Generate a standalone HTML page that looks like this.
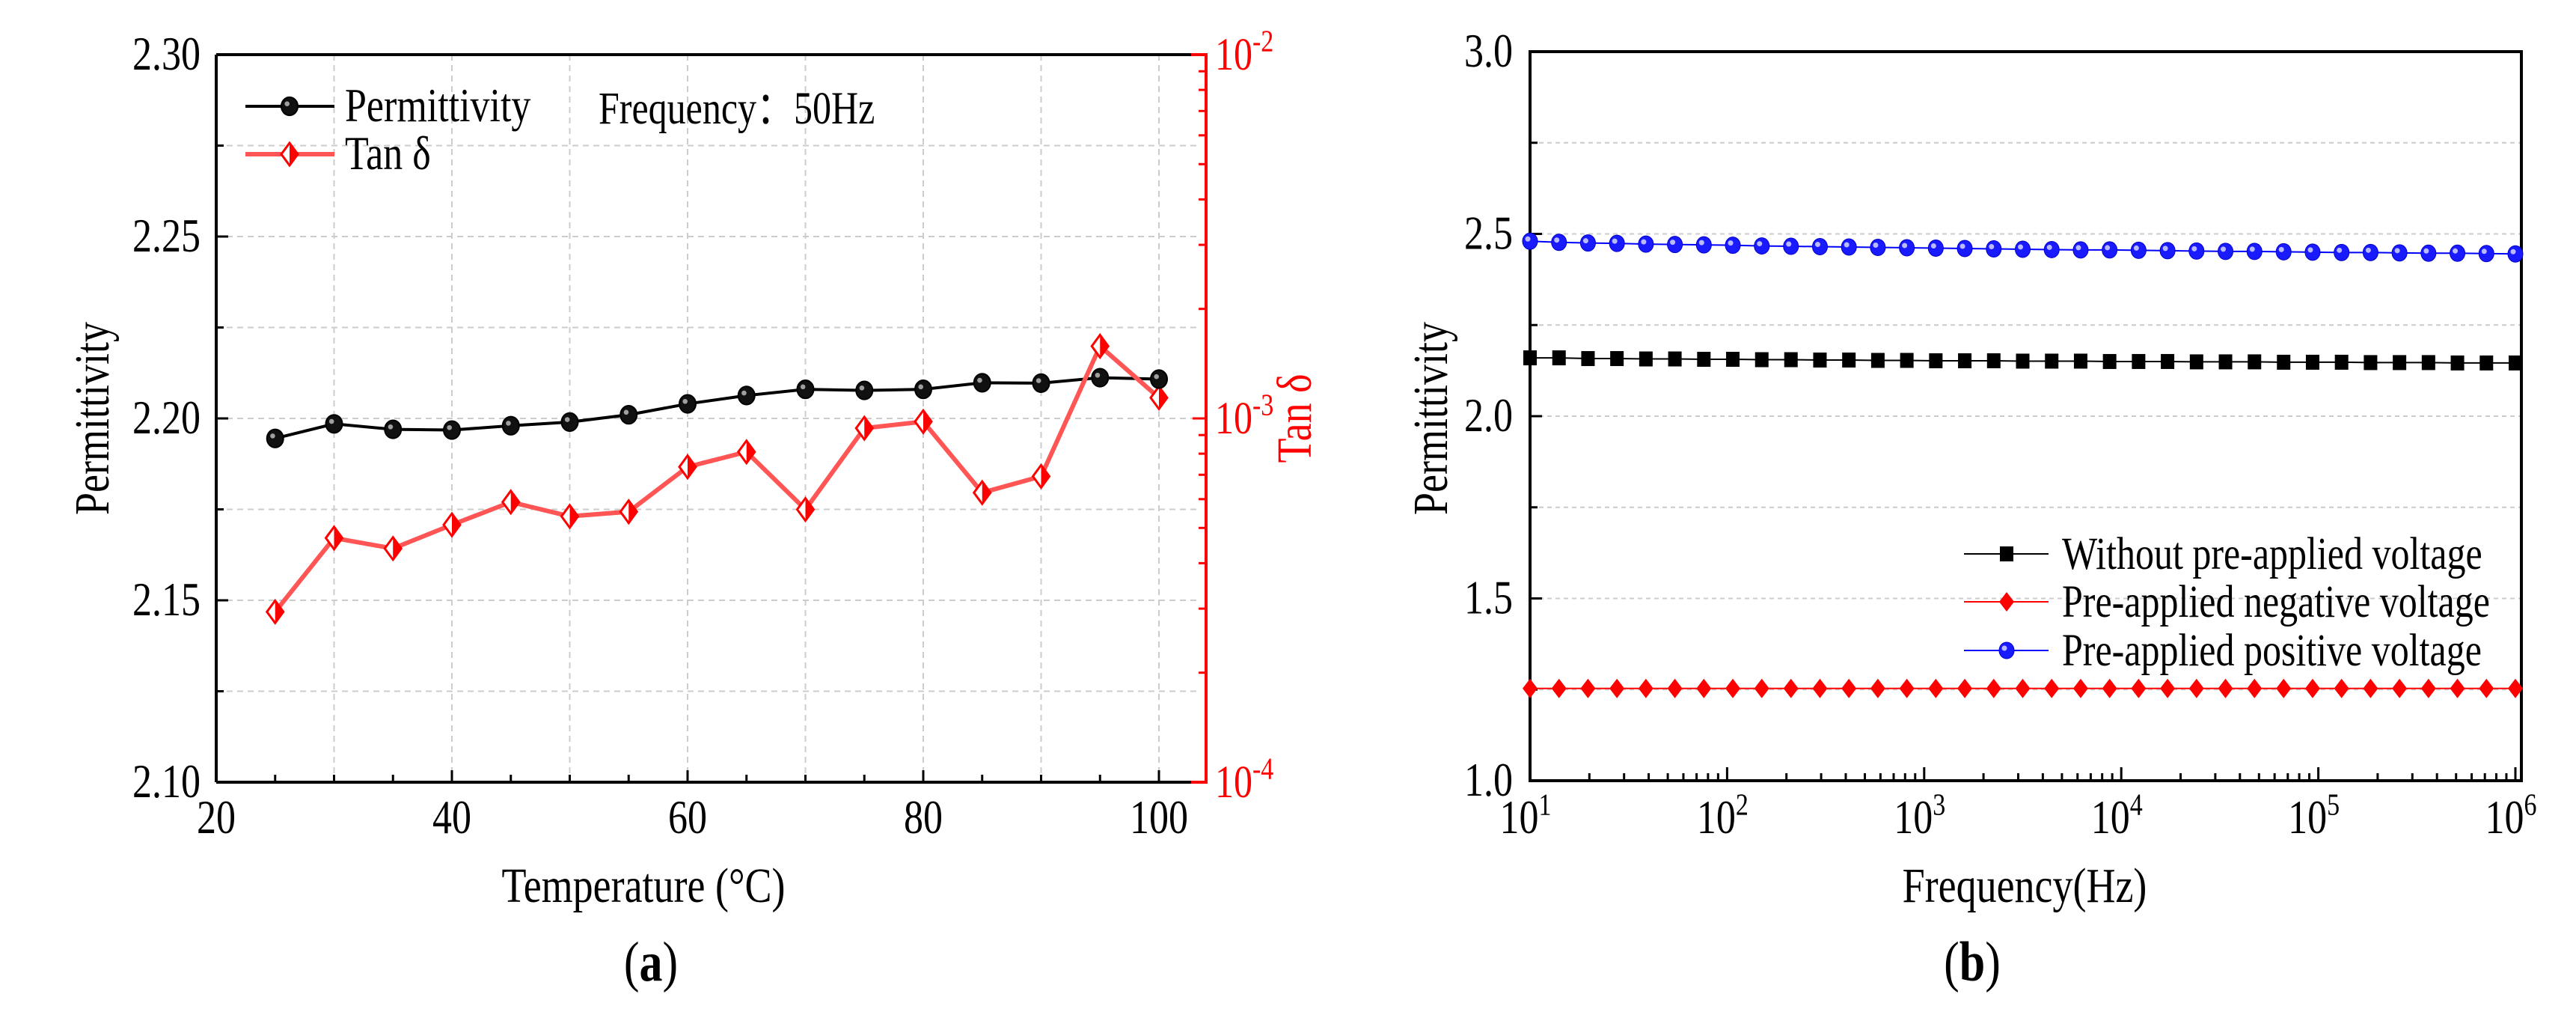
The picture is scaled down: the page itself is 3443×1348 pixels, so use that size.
<!DOCTYPE html>
<html><head><meta charset="utf-8"><style>
html,body{margin:0;padding:0;background:#fff;overflow:hidden}
svg{display:block;font-family:"Liberation Serif",serif}
</style></head><body>
<svg id="svg" width="3443" height="1348" viewBox="0 0 3443 1348" xmlns="http://www.w3.org/2000/svg">
<g id="ga"></g>
<g id="gb"></g>
</svg>
<script>
// ---- Chart (a) data ----
const tempC = [25,30,35,40,45,50,55,60,65,70,75,80,85,90,95,100];
const permA = [2.1945,2.1985,2.197,2.1968,2.198,2.199,2.201,2.204,2.2063,2.208,2.2077,2.208,2.2098,2.2097,2.2112,2.2108];
const tanD = [2.94e-4,4.69e-4,4.39e-4,5.1e-4,5.89e-4,5.38e-4,5.54e-4,7.36e-4,8.09e-4,5.62e-4,9.4e-4,9.8e-4,6.25e-4,6.93e-4,1.58e-3,1.14e-3];
const aXTicks = [20,40,60,80,100];
const aYTicks = ["2.10","2.15","2.20","2.25","2.30"];
const aRTicks = ["-4","-3","-2"];
// ---- Chart (b) data ----
const freqExp = [1,1.147,1.294,1.441,1.588,1.735,1.882,2.029,2.176,2.324,2.471,2.618,2.765,2.912,3.059,3.206,3.353,3.5,3.647,3.794,3.941,4.088,4.235,4.382,4.529,4.676,4.824,4.971,5.118,5.265,5.412,5.559,5.706,5.853,6];
const permNone = [2.16,2.16,2.158,2.158,2.157,2.157,2.156,2.156,2.155,2.155,2.154,2.154,2.153,2.153,2.152,2.152,2.152,2.151,2.151,2.151,2.15,2.15,2.15,2.149,2.149,2.149,2.148,2.148,2.148,2.147,2.147,2.147,2.146,2.146,2.146];
const permNeg = [1.253,1.253,1.253,1.253,1.253,1.253,1.253,1.253,1.253,1.253,1.253,1.253,1.253,1.253,1.253,1.253,1.253,1.253,1.253,1.253,1.253,1.253,1.253,1.253,1.253,1.253,1.253,1.253,1.253,1.253,1.253,1.253,1.253,1.253,1.253];
const permPos = [2.48,2.477,2.475,2.474,2.472,2.471,2.47,2.469,2.467,2.466,2.465,2.464,2.463,2.462,2.461,2.46,2.459,2.458,2.457,2.456,2.456,2.455,2.454,2.453,2.452,2.452,2.451,2.45,2.449,2.449,2.448,2.447,2.447,2.446,2.445];
const bYTicks = ["1.0","1.5","2.0","2.5","3.0"];
const bXTicks = [1,2,3,4,5,6];

const NS="http://www.w3.org/2000/svg";
const SY=1.22;
function mk(parent,tag,attrs,text){const e=document.createElementNS(NS,tag);for(const k in attrs)e.setAttribute(k,attrs[k]);if(text!==undefined)e.textContent=text;parent.appendChild(e);return e;}
function txt(parent,x,y,attrs,text,rot){const a=Object.assign({x:0,y:0,transform:`translate(${x},${y})${rot?' rotate(-90)':''} scale(1,${SY})`},attrs);return mk(parent,'text',a,text);}

// ===== Chart A =====
const ga=document.getElementById('ga');
const aL=289,aR=1612,aT=73,aB=1045,aX0=289,aX1=1549;
const ax=v=>aX0+(v-20)/80*(aX1-aX0);
const ay=v=>aB-(v-2.10)/0.20*(aB-aT);
const ayr=v=>aB-(Math.log10(v)+4)/2*(aB-aT);
for(let i=1;i<8;i++){const yv=2.10+i*0.025;const g=mk(ga,'line',{x1:aL,x2:aR-10,y1:ay(yv),y2:ay(yv),stroke:'#ccc','stroke-width':2,'stroke-dasharray':'8,6'});}
for(let v=30;v<=100;v+=10){const g=mk(ga,'line',{x1:ax(v),x2:ax(v),y1:aT,y2:aB,stroke:'#ccc','stroke-width':2,'stroke-dasharray':'8,6'});}
let e=mk(ga,'line',{x1:aL,x2:aR-20,y1:aT,y2:aT,stroke:'#000','stroke-width':4});
e=mk(ga,'line',{x1:aL,x2:aR-20,y1:aB,y2:aB,stroke:'#000','stroke-width':4});
e=mk(ga,'line',{x1:aL,x2:aL,y1:aT,y2:aB,stroke:'#000','stroke-width':4});
e=mk(ga,'polyline',{points:`${aR-20},${aT} ${aR},${aT} ${aR},${aB} ${aR-20},${aB}`,fill:'none',stroke:'#f00','stroke-width':4});
for(let v=20;v<=100;v+=5){mk(ga,'line',{x1:ax(v),x2:ax(v),y1:aB,y2:aB-(v%20===0?16:10),stroke:'#000','stroke-width':3});}
aXTicks.forEach(v=>{const t=txt(ga,ax(v),1113,{'font-size':52,'text-anchor':'middle'},String(v));});
aYTicks.forEach(s=>{const v=parseFloat(s);mk(ga,'line',{x1:aL,x2:aL+16,y1:ay(v),y2:ay(v),stroke:'#000','stroke-width':3});const t=txt(ga,268,ay(v)+20,{'font-size':52,'text-anchor':'end'},s);});
for(let i=1;i<8;i+=2){mk(ga,'line',{x1:aL,x2:aL+10,y1:ay(2.10+i*0.025),y2:ay(2.10+i*0.025),stroke:'#000','stroke-width':3});}
for(let d=-4;d<-2;d++){for(let m=1;m<=10;m++){const v=m*Math.pow(10,d);const y=ayr(v);mk(ga,'line',{x1:aR,x2:aR-(m===1||m===10?18:10),y1:y,y2:y,stroke:'#f00','stroke-width':3});}}
aRTicks.forEach(s=>{const y=ayr(Math.pow(10,parseInt(s)));const t=txt(ga,1624,y+20,{'font-size':50,fill:'#f00'});mk(t,'tspan',{},'10');mk(t,'tspan',{dy:-20,'font-size':34},s);});
e=txt(ga,860,1205,{'font-size':54,'text-anchor':'middle'},'Temperature (°C)');
e=txt(ga,145,559,{'font-size':54,'text-anchor':'middle'},'Permittivity',true);
e=txt(ga,1752,559,{'font-size':54,'text-anchor':'middle',fill:'#f00'},'Tan δ',true);
e=txt(ga,870,1310,{'font-size':62,'text-anchor':'middle'});mk(e,'tspan',{},'(');mk(e,'tspan',{'font-weight':'bold'},'a');mk(e,'tspan',{},')');
e=mk(ga,'polyline',{points:tempC.map((t,i)=>ax(t)+','+ay(permA[i])).join(' '),fill:'none',stroke:'#000','stroke-width':4});
e=mk(ga,'polyline',{points:tempC.map((t,i)=>ax(t)+','+ayr(tanD[i])).join(' '),fill:'none',stroke:'#f55','stroke-width':6});
function circleMark(g,x,y,fill,r){mk(g,'ellipse',{cx:x,cy:y,rx:r,ry:r*1.1,fill:fill,stroke:'#000','stroke-width':2});mk(g,'circle',{cx:x-r*0.3,cy:y-r*0.3,r:r*0.3,fill:'rgba(255,255,255,0.6)'});}
function halfDiamond(g,x,y){mk(g,'polygon',{points:`${x},${y-15} ${x+11},${y} ${x},${y+15} ${x-11},${y}`,fill:'#fff',stroke:'#f00','stroke-width':3});mk(g,'polygon',{points:`${x},${y-15} ${x+11},${y} ${x},${y+15}`,fill:'#f00'});}
tempC.forEach((t,i)=>{const g=mk(ga,'g',{});halfDiamond(g,ax(t),ayr(tanD[i]));});
tempC.forEach((t,i)=>{const g=mk(ga,'g',{});circleMark(g,ax(t),ay(permA[i]),'#111',11);});
let lg=mk(ga,'g',{});
mk(lg,'line',{x1:328,x2:447,y1:142,y2:142,stroke:'#000','stroke-width':4});circleMark(lg,387,142,'#111',11);txt(lg,461,162,{'font-size':52},'Permittivity');
lg=mk(ga,'g',{});
mk(lg,'line',{x1:328,x2:447,y1:206,y2:206,stroke:'#f55','stroke-width':6});halfDiamond(lg,387,206);txt(lg,461,226,{'font-size':52},'Tan δ');
e=txt(ga,800,165,{'font-size':50},'Frequency：50Hz');

// ===== Chart B =====
const gb=document.getElementById('gb');
const bL=2045,bR=3370,bT=69,bB=1043,bX0=2045,bX1=3362;
const bx=v=>bX0+(v-1)/5*(bX1-bX0);
const by=v=>bB-(v-1)/2*(bB-bT);
for(let i=1;i<8;i++){const v=1+i*0.25;const g=mk(gb,'line',{x1:bL+12,x2:bR,y1:by(v),y2:by(v),stroke:'#ccc','stroke-width':2,'stroke-dasharray':'6,5'});}
e=mk(gb,'rect',{x:bL,y:bT,width:bR-bL,height:bB-bT,fill:'none',stroke:'#000','stroke-width':4});
bYTicks.forEach(s=>{const v=parseFloat(s);mk(gb,'line',{x1:bL,x2:bL+16,y1:by(v),y2:by(v),stroke:'#000','stroke-width':3});const t=txt(gb,2022,by(v)+20,{'font-size':52,'text-anchor':'end'},s);});
for(let i=1;i<8;i+=2)mk(gb,'line',{x1:bL,x2:bL+10,y1:by(1+i*0.25),y2:by(1+i*0.25),stroke:'#000','stroke-width':3});
for(let d=1;d<6;d++)for(let m=2;m<10;m++){const x=bx(d+Math.log10(m));mk(gb,'line',{x1:x,x2:x,y1:bB,y2:bB-10,stroke:'#000','stroke-width':3});}
bXTicks.forEach(d=>{mk(gb,'line',{x1:bx(d),x2:bx(d),y1:bB,y2:bB-18,stroke:'#000','stroke-width':3});const t=txt(gb,bx(d)-6,1113,{'font-size':52,'text-anchor':'middle'});mk(t,'tspan',{},'10');mk(t,'tspan',{dy:-20,'font-size':34},String(d));});
e=txt(gb,2706,1205,{'font-size':54,'text-anchor':'middle'},'Frequency(Hz)');
e=txt(gb,1934,559,{'font-size':54,'text-anchor':'middle'},'Permittivity',true);
e=txt(gb,2636,1310,{'font-size':62,'text-anchor':'middle'});mk(e,'tspan',{},'(');mk(e,'tspan',{'font-weight':'bold'},'b');mk(e,'tspan',{},')');
function sq(g,x,y){mk(g,'rect',{x:x-9,y:y-10,width:18,height:20,fill:'#000'});}
function dia(g,x,y){mk(g,'polygon',{points:`${x},${y-13} ${x+10},${y} ${x},${y+13} ${x-10},${y}`,fill:'#f00'});}
function blueC(g,x,y){mk(g,'ellipse',{cx:x,cy:y,rx:10,ry:11,fill:'#1a1aff',stroke:'#00c','stroke-width':1});mk(g,'circle',{cx:x-3,cy:y-3,r:3.5,fill:'rgba(255,255,255,0.7)'});}
const seriesB=[[permNone,'#000','series-without-voltage',sq],[permNeg,'#f00','series-negative-voltage',dia],[permPos,'#00f','series-positive-voltage',blueC]];
seriesB.forEach(([arr,col,nm,fn])=>{const g=mk(gb,'g',{});mk(g,'polyline',{points:freqExp.map((f,i)=>bx(f)+','+by(arr[i])).join(' '),fill:'none',stroke:col,'stroke-width':2});freqExp.forEach((f,i)=>fn(g,bx(f),by(arr[i])));});
const legB=[['Without pre-applied voltage','#000',sq,740,'legend-entry-without'],['Pre-applied negative voltage','#f00',dia,804,'legend-entry-negative'],['Pre-applied positive voltage','#00f',blueC,869,'legend-entry-positive']];
legB.forEach(([t,col,fn,y,nm])=>{const g=mk(gb,'g',{});mk(g,'line',{x1:2625,x2:2738,y1:y,y2:y,stroke:col,'stroke-width':2});fn(g,2682,y);txt(g,2756,y+20,{'font-size':50},t);});
</script>
</body></html>
